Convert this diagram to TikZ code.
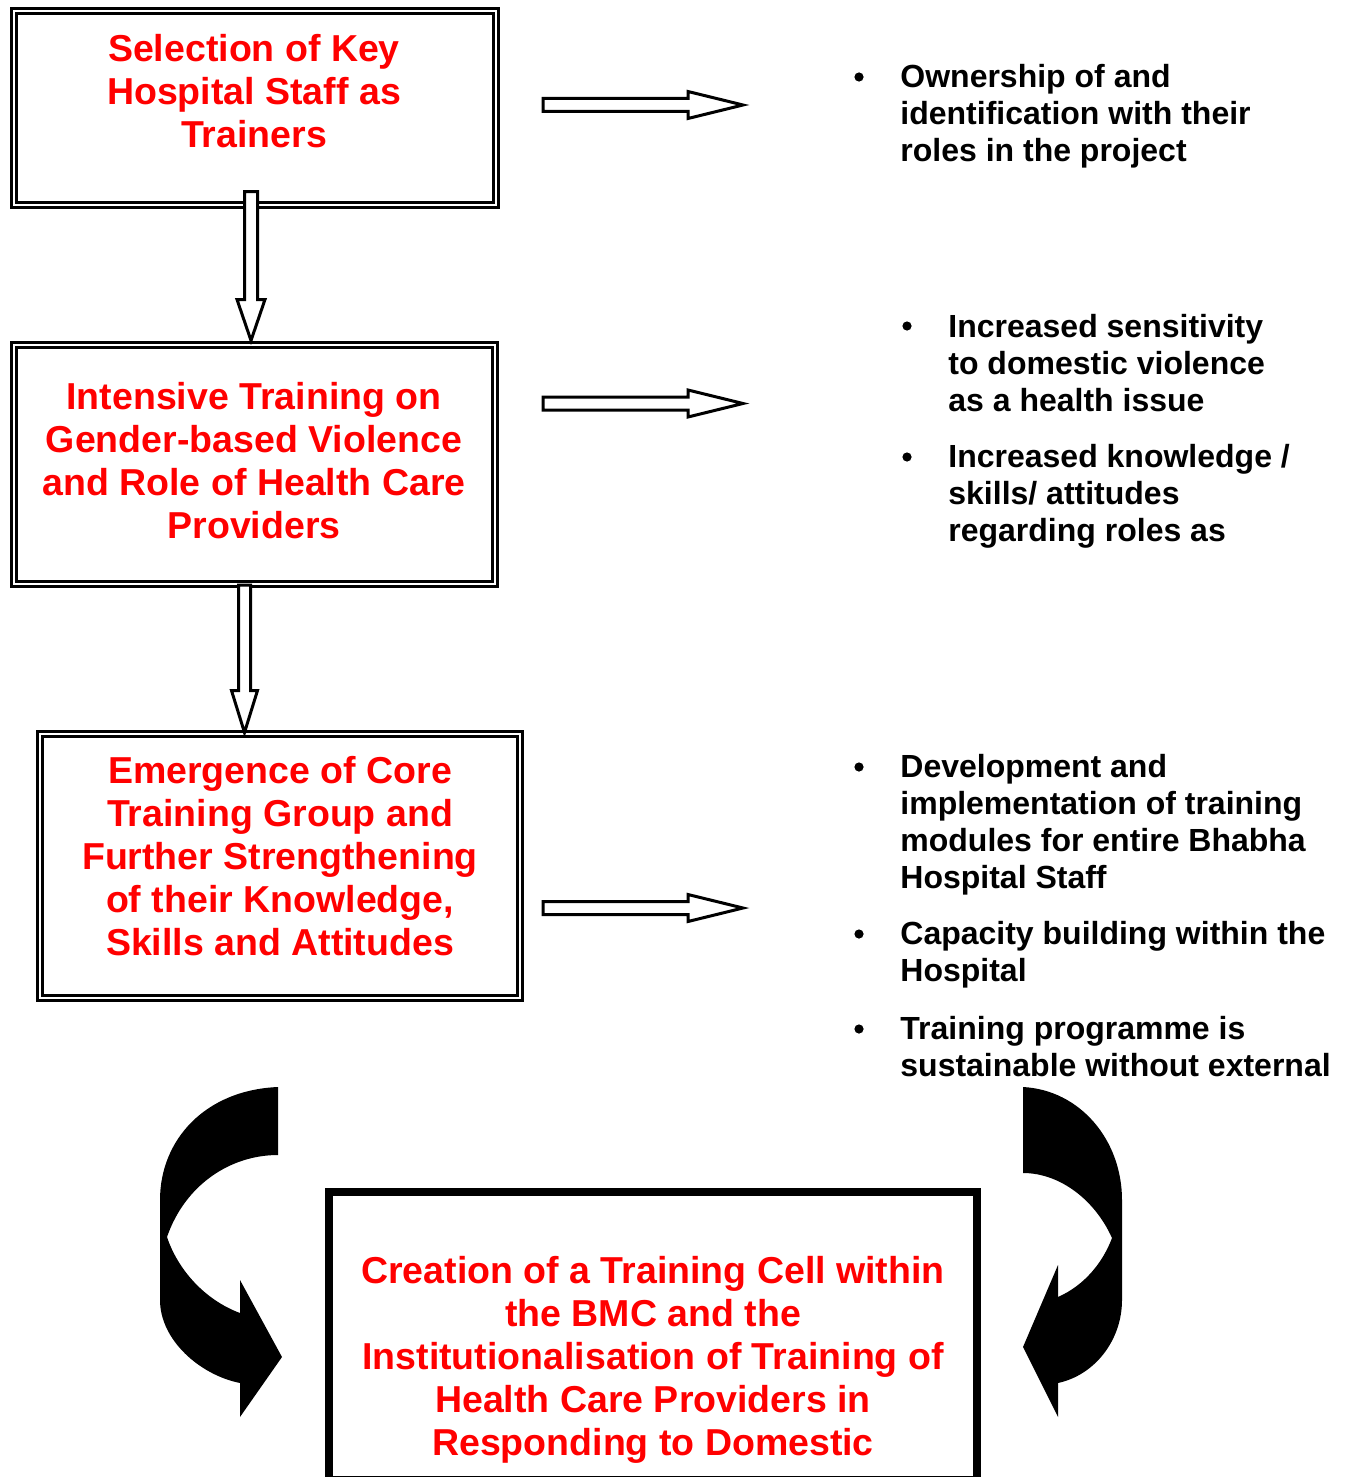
\documentclass[tikz,border=0pt]{standalone}
\usepackage{fontspec}
\setmainfont{Liberation Sans}
\usepackage{tikz}

\tikzset{
  redtxt/.style={text=red, font=\bfseries\fontsize{18.75}{21.5}\selectfont, align=center, inner sep=0pt},
  blktxt/.style={font=\bfseries\fontsize{16}{18.5}\selectfont, align=left, anchor=west, inner sep=0pt},
  bul/.style={circle, fill, inner sep=0pt, minimum size=4.6pt},
  dbox/.style={draw, double, line width=1.5pt, double distance=1.25pt, rectangle, inner sep=0pt},
  hollow/.style={draw, fill=white, line width=1.5pt, line join=miter},
}

\begin{document}
\begin{tikzpicture}[x=0.5pt, y=-0.5pt]
    % Cadre de la figure
    \useasboundingbox (0,0) rectangle (1348,1477);
    \clip (0,0) rectangle (1348,1477);

    % Boites
    \node[dbox, minimum width=241pt, minimum height=97pt] (sel) at (255,108) {};
    \node[dbox, minimum width=240.5pt, minimum height=119.5pt] (train) at (254.5,464.5) {};
    \node[dbox, minimum width=240pt, minimum height=132pt] (core) at (280,866) {};
    \node[draw, line width=4pt, minimum width=324.25pt, minimum height=144pt, inner sep=0pt] (cell) at (652.75,1335.5) {};

    % Textes des boites
    \node[redtxt] (seltxt) at (254,91) {Selection of Key\\Hospital Staff as\\Trainers};
    \node[redtxt] (traintxt) at (254,461) {Intensive Training on\\Gender-based Violence\\and Role of Health Care\\Providers};
    \node[redtxt] (coretxt) at (280,856.5) {Emergence of Core\\Training Group and\\Further Strengthening\\of their Knowledge,\\Skills and Attitudes};
    \node[redtxt] (celltxt) at (653,1360) {Creation of a Training Cell within\\the BMC and the\\Institutionalisation of Training of\\Health Care Providers in\\Responding to Domestic};

    % Fleches vers le bas
    \draw[hollow] (sel.south) ++(-10.5,-15) -- ++(0,108) -- ++(-7.5,0) -- ++(14,41)
        -- ++(14,-41) -- ++(-7.5,0) -- ++(0,-108) -- cycle;
    \draw[hollow] (train.south) ++(-16,-0.5) -- ++(0,105.5) -- ++(-7,0) -- ++(13,42)
        -- ++(13,-42) -- ++(-7,0) -- ++(0,-105.5) -- cycle;

    % Fleches vers la droite
    \foreach \y in {105,403.5,908}
        \draw[hollow] (543,\y) ++(0,-6.5) -- ++(145,0) -- ++(0,-7) -- ++(55,13.5)
            -- ++(-55,13.5) -- ++(0,-7) -- ++(-145,0) -- cycle;

    % Resultats
    \node[bul] (p1) at (859,77) {};
    \node[blktxt] (r1) at (900,116) {Ownership of and\\identification with their\\roles in the project};
    \node[bul] (p2) at (907,326) {};
    \node[blktxt] (r2) at (948,363) {Increased sensitivity\\to domestic violence\\as a health issue};
    \node[bul] (p3) at (907,457) {};
    \node[blktxt] (r3) at (948,496) {Increased knowledge /\\skills/ attitudes\\regarding roles as};
    \node[bul] (p4) at (859,767) {};
    \node[blktxt] (r4) at (900,825) {Development and\\implementation of training\\modules for entire Bhabha\\Hospital Staff};
    \node[bul] (p5) at (859,934) {};
    \node[blktxt] (r5) at (900,954.5) {Capacity building within the\\Hospital};
    \node[bul] (p6) at (859,1029) {};
    \node[blktxt] (r6) at (900,1047) {Training programme is\\sustainable without external};

    % Fleches courbes
    \fill (278,1087) .. controls (205,1090) and (160,1140) .. (160,1200) -- (160,1300)
        .. controls (160,1340) and (200,1375) .. (240,1383) -- (240,1417) -- (282,1357)
        -- (240,1280) -- (240,1313) .. controls (205,1300) and (178,1270) .. (167,1237)
        .. controls (185,1185) and (230,1155) .. (278,1155) -- cycle;
    \fill (1023,1087) .. controls (1080,1090) and (1122,1140) .. (1122,1200) -- (1122,1300)
        .. controls (1122,1340) and (1095,1375) .. (1058,1383) -- (1058,1417) -- (1023,1347)
        -- (1058,1265) -- (1058,1297) .. controls (1085,1285) and (1103,1262) .. (1112,1238)
        .. controls (1095,1200) and (1060,1173) .. (1023,1173) -- cycle;
\end{tikzpicture}
\end{document}
